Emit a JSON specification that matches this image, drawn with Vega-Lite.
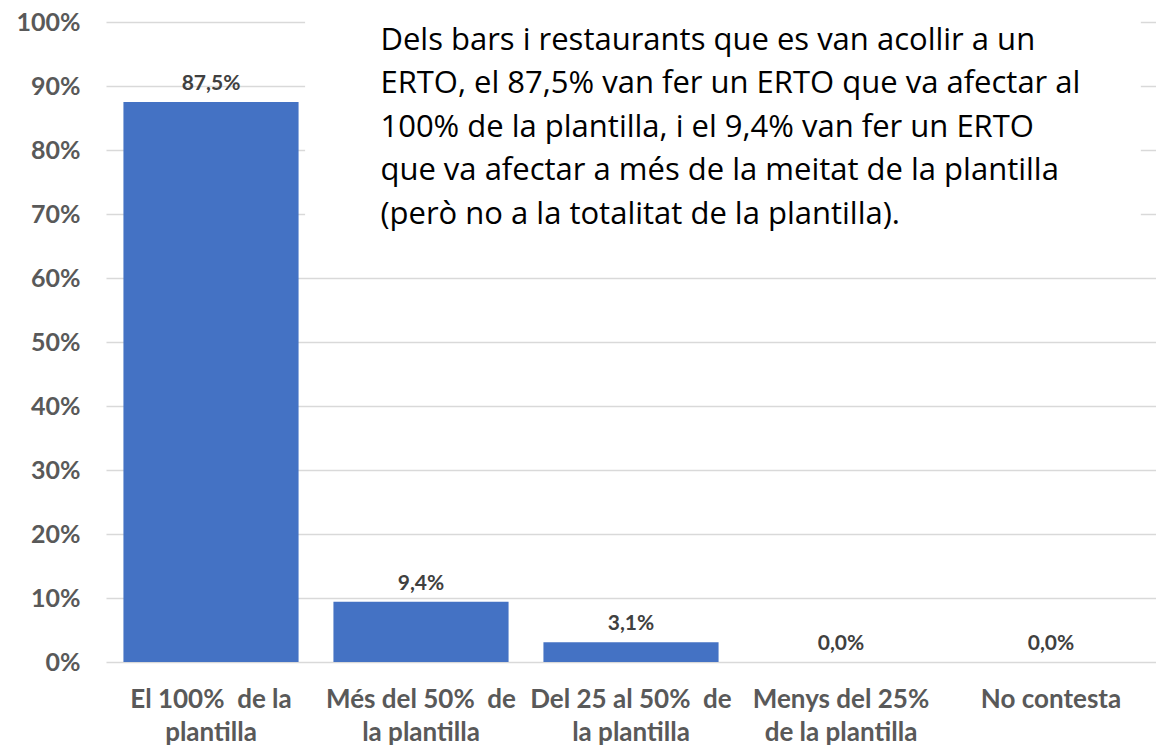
{
  "$schema": "https://vega.github.io/schema/vega-lite/v6.json",
  "width": 1050,
  "height": 640,
  "autosize": {"type": "none"},
  "padding": {"left": 106, "top": 22, "right": 0, "bottom": 85},
  "config": {
    "view": {"stroke": null},
    "font": "Lato",
    "locale": {"number": {"decimal": ",", "thousands": ".", "grouping": [3], "currency": ["", " €"]}}
  },
  "data": {
    "values": [
      {"cat": "El 100%  de la|plantilla", "v": 0.875},
      {"cat": "Més del 50%  de|la plantilla", "v": 0.094},
      {"cat": "Del 25 al 50%  de|la plantilla", "v": 0.031},
      {"cat": "Menys del 25%|de la plantilla", "v": 0.0},
      {"cat": "No contesta", "v": 0.0}
    ]
  },
  "layer": [
    {
      "mark": {"type": "bar", "color": "#4472C4"},
      "encoding": {
        "x": {
          "field": "cat", "type": "nominal", "sort": null,
          "scale": {
            "domain": ["El 100%  de la|plantilla", "Més del 50%  de|la plantilla", "Del 25 al 50%  de|la plantilla", "Menys del 25%|de la plantilla", "No contesta"],
            "paddingInner": 0.166, "paddingOuter": 0.083
          },
          "axis": {
            "title": null, "labelAngle": 0, "labelExpr": "split(replace(datum.value, '  ', '\u00a0 '), '|')",
            "labelFontSize": 26, "labelFontWeight": "bold", "labelColor": "#595959",
            "labelLineHeight": 33, "labelPadding": 24, "ticks": false, "domain": false,
            "labelLimit": 0, "labelOverlap": false, "labelFont": "Lato"
          }
        },
        "y": {
          "field": "v", "type": "quantitative",
          "scale": {"domain": [0, 1], "nice": false},
          "axis": {
            "title": null, "format": ".0%", "values": [0, 0.1, 0.2, 0.3, 0.4, 0.5, 0.6, 0.7, 0.8, 0.9, 1],
            "grid": true, "gridColor": "#D9D9D9", "gridWidth": 1.5, "domain": false, "ticks": false,
            "labelFontSize": 25, "labelFontWeight": "bold", "labelColor": "#595959", "labelPadding": 26,
            "labelFont": "Lato"
          }
        }
      }
    },
    {
      "mark": {"type": "text", "baseline": "bottom", "dy": -8, "fontSize": 21, "fontWeight": "bold", "color": "#404040"},
      "encoding": {
        "x": {"field": "cat", "type": "nominal", "sort": null},
        "y": {"field": "v", "type": "quantitative"},
        "text": {"field": "v", "type": "quantitative", "format": ".1%"}
      }
    },
    {
      "mark": {"type": "rect", "fill": "white"},
      "encoding": {
        "x": {"datum": "El 100%  de la|plantilla", "bandPosition": 1.04},
        "x2": {"datum": "No contesta", "bandPosition": 1.01},
        "y": {"datum": 1.012},
        "y2": {"datum": 0.64}
      }
    },
    {
      "data": {
        "values": [
          {"cat": "Més del 50%  de|la plantilla", "note": "Dels bars i restaurants que es van acollir a un\nERTO, el 87,5% van fer un ERTO que va afectar al\n100% de la plantilla, i el 9,4% van fer un ERTO\nque va afectar a més de la meitat de la plantilla\n(però no a la totalitat de la plantilla)."}
        ]
      },
      "mark": {"type": "text", "align": "left", "baseline": "alphabetic", "lineBreak": "\n", "lineHeight": 43.5, "fontSize": 31, "dx": 47, "color": "#000000", "font": "Open Sans"},
      "encoding": {
        "x": {"field": "cat", "type": "nominal", "bandPosition": 0},
        "y": {"datum": 0.957},
        "text": {"field": "note"}
      }
    }
  ]
}
